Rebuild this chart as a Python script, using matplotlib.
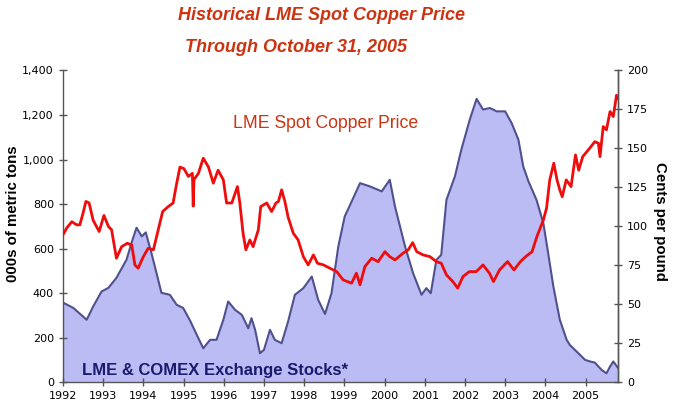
import matplotlib
matplotlib.use("Agg")
import matplotlib.pyplot as plt

# LME + COMEX exchange stocks, 000s of metric tons (left axis)
stock_years = [1992.00, 1992.26, 1992.59, 1992.75, 1992.96, 1993.13, 1993.33, 1993.58,
               1993.73, 1993.83, 1993.96, 1994.06, 1994.20, 1994.45, 1994.66, 1994.83,
               1994.99, 1995.16, 1995.33, 1995.49, 1995.66, 1995.82, 1995.99, 1996.11,
               1996.28, 1996.45, 1996.61, 1996.69, 1996.78, 1996.90, 1997.00, 1997.15,
               1997.27, 1997.44, 1997.60, 1997.77, 1997.98, 1998.19, 1998.35, 1998.52,
               1998.68, 1998.85, 1999.01, 1999.14, 1999.39, 1999.64, 1999.93, 2000.13,
               2000.26, 2000.51, 2000.71, 2000.92, 2001.04, 2001.15, 2001.29, 2001.41,
               2001.54, 2001.75, 2001.91, 2002.12, 2002.29, 2002.45, 2002.62, 2002.79,
               2003.00, 2003.16, 2003.33, 2003.45, 2003.58, 2003.78, 2003.95, 2004.07,
               2004.20, 2004.36, 2004.53, 2004.61, 2004.78, 2004.99, 2005.11, 2005.23,
               2005.40, 2005.52, 2005.61, 2005.69, 2005.77, 2005.81]
stocks = [358, 334, 281, 340, 408, 424, 469, 550,
          640, 694, 655, 673, 581, 402, 393, 348,
          334, 278, 213, 153, 191, 191, 281, 363,
          326, 303, 243, 288, 236, 131, 146, 236,
          191, 176, 273, 393, 423, 475, 370, 307,
          400, 610, 745, 795, 894, 879, 857, 909,
          789, 610, 490, 393, 423, 400, 550, 572,
          819, 924, 1044, 1179, 1272, 1224, 1231, 1216,
          1216, 1164, 1089, 969, 902, 819, 715, 580,
          430, 281, 191, 168, 138, 101, 94, 89,
          56, 41, 71, 94, 74, 65]

# LME spot copper price, cents per pound (right axis)
price_years = [1992.00, 1992.09, 1992.22, 1992.34, 1992.42, 1992.51, 1992.57, 1992.65,
               1992.75, 1992.90, 1993.02, 1993.13, 1993.21, 1993.33, 1993.46, 1993.60,
               1993.71, 1993.79, 1993.87, 1994.00, 1994.12, 1994.25, 1994.37, 1994.48,
               1994.62, 1994.74, 1994.83, 1994.91, 1995.01, 1995.12, 1995.22, 1995.24,
               1995.26, 1995.37, 1995.49, 1995.62, 1995.74, 1995.86, 1995.99, 1996.07,
               1996.20, 1996.34, 1996.40, 1996.48, 1996.55, 1996.65, 1996.73, 1996.86,
               1996.92, 1997.07, 1997.19, 1997.30, 1997.36, 1997.44, 1997.52, 1997.60,
               1997.73, 1997.85, 1997.98, 1998.10, 1998.23, 1998.33, 1998.48, 1998.64,
               1998.81, 1998.97, 1999.18, 1999.30, 1999.39, 1999.51, 1999.68, 1999.84,
               2000.01, 2000.13, 2000.26, 2000.46, 2000.59, 2000.70, 2000.80, 2000.96,
               2001.13, 2001.29, 2001.41, 2001.54, 2001.70, 2001.82, 2001.95, 2002.11,
               2002.28, 2002.45, 2002.61, 2002.71, 2002.86, 2003.06, 2003.22, 2003.38,
               2003.51, 2003.67, 2003.79, 2003.95, 2004.03, 2004.11, 2004.21, 2004.29,
               2004.36, 2004.42, 2004.52, 2004.64, 2004.75, 2004.83, 2004.93, 2005.10,
               2005.23, 2005.32, 2005.36, 2005.44, 2005.52, 2005.61, 2005.69, 2005.77,
               2005.81]
price = [94.6, 98.8, 103, 101, 101, 109.5, 116, 115,
         104, 96.7, 107, 100, 97.8, 79.6, 87, 89.2,
         88.1, 75.3, 73.2, 80.6, 86, 85, 97.8, 109.5,
         112.7, 115, 127.7, 138, 137, 132, 134, 113,
         130, 134, 143.7, 138, 127.7, 136, 129.8, 115,
         115, 125.5, 115, 95.6, 85, 91.3, 87, 97.8,
         112.7, 115, 109.5, 115, 116, 123.4, 116, 106,
         95.6, 91.3, 80.6, 75.3, 81.7, 76.4, 75.3, 73.2,
         71, 65.7, 63.6, 70, 62.5, 74.2, 79.6, 77.4,
         83.8, 80.6, 78.5, 82.8, 85, 89.6, 83.8, 81.7,
         80.6, 77.4, 76.4, 68.9, 64.6, 60.4, 67.8, 71,
         71, 75.3, 70, 64.6, 72.1, 77.4, 72.1, 77.4,
         80.6, 83.8, 93.5, 104, 111.7, 129.8, 140.5, 129.8,
         123.4, 119, 129.8, 125.5, 145.8, 136, 144.7, 150,
         154.3, 153.3, 144.7, 164, 161.9, 173.6, 170.4, 184,
         182]

year_ticks = list(range(1992, 2006))
left_ticks = [0, 200, 400, 600, 800, 1000, 1200, 1400]
right_ticks = [0, 25, 50, 75, 100, 125, 150, 175, 200]

title_red = "#cc3311"
navy = "#1a1a6e"

fig = plt.figure(figsize=(6.77, 4.09), dpi=100)
ax = fig.add_axes([0.093, 0.065, 0.820, 0.763])
ax2 = ax.twinx()

ax.fill_between(stock_years, stocks, 0, color="#bcbcf4", lw=0)
ax.plot(stock_years, stocks, color="#50508f", lw=1.5)
ax2.plot(price_years, price, color="#f00c0c", lw=2)

ax.set_xlim(1992, 2005.81)
ax.set_ylim(0, 1400)
ax2.set_ylim(0, 200)
ax.set_xticks(year_ticks)
ax.set_yticks(left_ticks)
ax2.set_yticks(right_ticks)
ax.set_yticklabels([f"{v:,}" for v in left_ticks])

for a in (ax, ax2):
    a.spines["top"].set_visible(False)
    for s in a.spines.values():
        s.set_color("#555555")
        s.set_linewidth(1)
    a.tick_params(direction="inout", length=6, width=1, color="#555555",
                  labelsize=8, labelcolor="black")
ax2.spines["left"].set_visible(False)
ax2.spines["bottom"].set_visible(False)

lab = dict(fontsize=10.8, fontweight="bold", family="Liberation Sans")
ax.set_ylabel("000s of metric tons", va="center", **lab)
ax.yaxis.set_label_coords(-0.09, 0.54)
ax2.set_ylabel("Cents per pound", rotation=-90, va="center", **lab)
ax2.yaxis.set_label_coords(1.0757, 0.516)

fig.text(178 / 677, 1 - 15 / 409, "Historical LME Spot Copper Price", color=title_red,
         fontsize=13, fontweight="bold", style="italic", family="Liberation Sans",
         va="center", ha="left")
fig.text(185 / 677, 1 - 47 / 409, "Through October 31, 2005", color=title_red,
         fontsize=13, fontweight="bold", style="italic", family="Liberation Sans",
         va="center", ha="left")
fig.text(233 / 677, 1 - 123 / 409, "LME Spot Copper Price", color=title_red,
         fontsize=12.7, family="Liberation Sans", va="center", ha="left")
fig.text(82 / 677, 1 - 370 / 409, "LME & COMEX Exchange Stocks*", color=navy,
         fontsize=12, fontweight="bold", family="Liberation Sans", va="center", ha="left")

fig.savefig("out.png", dpi=100)
